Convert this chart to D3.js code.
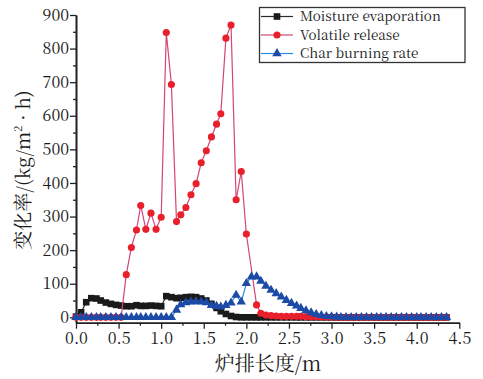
<!DOCTYPE html>
<html>
<head>
<meta charset="utf-8">
<script src="https://cdn.jsdelivr.net/npm/d3@7"></script>
<style>
    body { margin: 0; background: #fff; }
    svg { display: block; }
    svg text { font-family: "Noto Serif CJK SC", "Noto Sans CJK SC", serif; fill: #1a1a1a; }
</style>
</head>
<body>
<div class="chart"></div>
<script>
// grate position (m), same for all three series
var xs = [0, 0.06, 0.12, 0.18, 0.24, 0.29, 0.35, 0.41, 0.47, 0.53, 0.59, 0.65, 0.71, 0.76, 0.82,
    0.88, 0.94, 1.00, 1.06, 1.12, 1.18, 1.23, 1.29, 1.35, 1.41, 1.47, 1.53, 1.59, 1.65, 1.70,
    1.76, 1.82, 1.88, 1.94, 2.00, 2.06, 2.12, 2.17, 2.23, 2.29, 2.35, 2.41, 2.47, 2.53, 2.59,
    2.64, 2.70, 2.76, 2.82, 2.88, 2.94, 3.00, 3.06, 3.11, 3.17, 3.23, 3.29, 3.35, 3.41, 3.47,
    3.53, 3.58, 3.64, 3.70, 3.76, 3.82, 3.88, 3.94, 4.00, 4.05, 4.11, 4.17, 4.23, 4.29, 4.35];

var moisture = [2, 15, 45, 57, 56, 50, 44, 40, 37, 35, 33, 33, 36, 34, 34,
    35, 34, 33, 63, 60, 57, 58, 60, 61, 60, 56, 50, 40, 28, 18,
    10, 4, 1, 0, 0, 0, 0, 0, 0, 0, 0, 0, 0, 0, 0,
    0, 0, 0, 0, 0, 0, 0, 0, 0, 0, 0, 0, 0, 0, 0,
    0, 0, 0, 0, 0, 0, 0, 0, 0, 0, 0, 0, 0, 0, 0];

// null = no point at that position
var volatile = [0, 0, 0, 0, 0, 0, 0, 0, 0, 0, 127, 208, 260, 333, 262,
    310, 262, 298, 848, 693, 285, 305, 327, 365, 398, 460, 496, 537, 575, 606,
    831, 870, 350, 434, 248, null, 37, 12, 7, 5, 4, 3, 3, 3, 3,
    3, 2, 2, 2, 1, 1, 0, 0, 0, 0, 0, 0, 0, 0, 0,
    0, 0, 0, 0, 0, 0, 0, 0, 0, 0, 0, 0, 0, 0, 0];

var charBurning = [0, 0, 0, 0, 0, 0, 0, 0, 0, 0, 0, 0, 0, 0, 0,
    0, 0, 0, 0, 0, 22, 38, 44, 46, 47, 46, 44, 36, 33, 31,
    36, 43, 66, 46, 101, 121, 121, 108, 93, 81, 71, 61, 51, 42, 34,
    27, 20, 14, 9, 6, 3, 2, 1, 0, 0, 0, 0, 0, 0, 0,
    0, 0, 0, 0, 0, 0, 0, 0, 0, 0, 0, 0, 0, 0, 0];

var xTicks = [0, 0.5, 1.0, 1.5, 2.0, 2.5, 3.0, 3.5, 4.0, 4.5];
var yTicks = [0, 100, 200, 300, 400, 500, 600, 700, 800, 900];

var series = [
    { name: 'Moisture evaporation', values: moisture, line: '#2b2b2b', fill: '#1a1a1a', shape: d3.symbolSquare, size: 44 },
    { name: 'Volatile release', values: volatile, line: '#d2457a', fill: '#e8202c', shape: d3.symbolCircle, size: 40 },
    { name: 'Char burning rate', values: charBurning, line: '#2a8ae0', fill: '#1c4aa6', shape: d3.symbolTriangle, size: 38 }
];

var W = 483, H = 379;

var x = d3.scaleLinear().domain([0, 4.5]).range([76, 459.3]);
var y = d3.scaleLinear().domain([-16, 900]).range([322.7, 15]);

var svg = d3.select('.chart').append('svg').attr('width', W).attr('height', H);

// minor ticks first so the major ones sit on top
svg.append('g').attr('transform', 'translate(0,322.7)')
    .call(d3.axisBottom(x).tickValues(d3.range(0.25, 4.5, 0.5)).tickSize(3).tickSizeOuter(0).tickFormat(''));
svg.append('g').attr('transform', 'translate(76,0)')
    .call(d3.axisLeft(y).tickValues(d3.range(50, 900, 100)).tickSize(3).tickSizeOuter(0).tickFormat(''));

svg.append('g').attr('transform', 'translate(0,322.7)')
    .call(d3.axisBottom(x).tickValues(xTicks).tickSize(6).tickPadding(4).tickSizeOuter(0).tickFormat(d3.format('.1f')));
svg.append('g').attr('transform', 'translate(76,0)')
    .call(d3.axisLeft(y).tickValues(yTicks).tickSize(6).tickPadding(1).tickSizeOuter(0));

svg.selectAll('.domain').attr('stroke', '#222').attr('stroke-width', 1.6);
svg.selectAll('.tick line').attr('stroke', '#222').attr('stroke-width', 1.3);
svg.selectAll('.tick text').style('font-size', '16px');

// series: line then markers
series.forEach(function(s) {
    var pts = xs.map(function(d, i) { return { x: d, y: s.values[i] }; })
        .filter(function(p) { return p.y !== null; });
    svg.append('path').datum(pts)
        .attr('fill', 'none')
        .attr('stroke', s.line)
        .attr('stroke-width', 1.2)
        .attr('d', d3.line().x(function(p) { return x(p.x); }).y(function(p) { return y(p.y); }));
    svg.append('g').selectAll('path').data(pts).enter().append('path')
        .attr('transform', function(p) { return 'translate(' + x(p.x) + ',' + y(p.y) + ')'; })
        .attr('d', d3.symbol().type(s.shape).size(s.size))
        .attr('fill', s.fill);
});

// legend
var legend = svg.append('g');
legend.append('rect')
    .attr('x', 259.5).attr('y', 7.5).attr('width', 205.5).attr('height', 55)
    .attr('fill', '#fff').attr('stroke', '#333').attr('stroke-width', 1.3);
var items = legend.selectAll('g.item').data(series).enter().append('g')
    .attr('transform', function(d, i) { return 'translate(0,' + (16.5 + 18.5 * i) + ')'; });
items.append('line')
    .attr('x1', 261).attr('x2', 293).attr('y1', 0).attr('y2', 0)
    .attr('stroke', function(d) { return d.line; }).attr('stroke-width', 1.2);
items.append('path')
    .attr('transform', 'translate(277,0)')
    .attr('d', function(d) { return d3.symbol().type(d.shape).size(d.size)(); })
    .attr('fill', function(d) { return d.fill; });
items.append('text')
    .attr('x', 300).attr('y', 0).attr('dy', '0.35em')
    .style('font-size', '13.5px')
    .text(function(d) { return d.name; });

// axis titles
svg.append('text')
    .attr('x', 268).attr('y', 371)
    .attr('text-anchor', 'middle')
    .style('font-size', '20px')
    .text('炉排长度/m');

var yTitle = svg.append('text')
    .attr('transform', 'translate(30,170) rotate(-90)')
    .attr('text-anchor', 'middle')
    .style('font-size', '19px');
yTitle.append('tspan').text('变化率/(kg/m');
yTitle.append('tspan').style('font-size', '11px').attr('dy', -8).text('2');
yTitle.append('tspan').attr('dy', 8).text(' · h)');
</script>
</body>
</html>
